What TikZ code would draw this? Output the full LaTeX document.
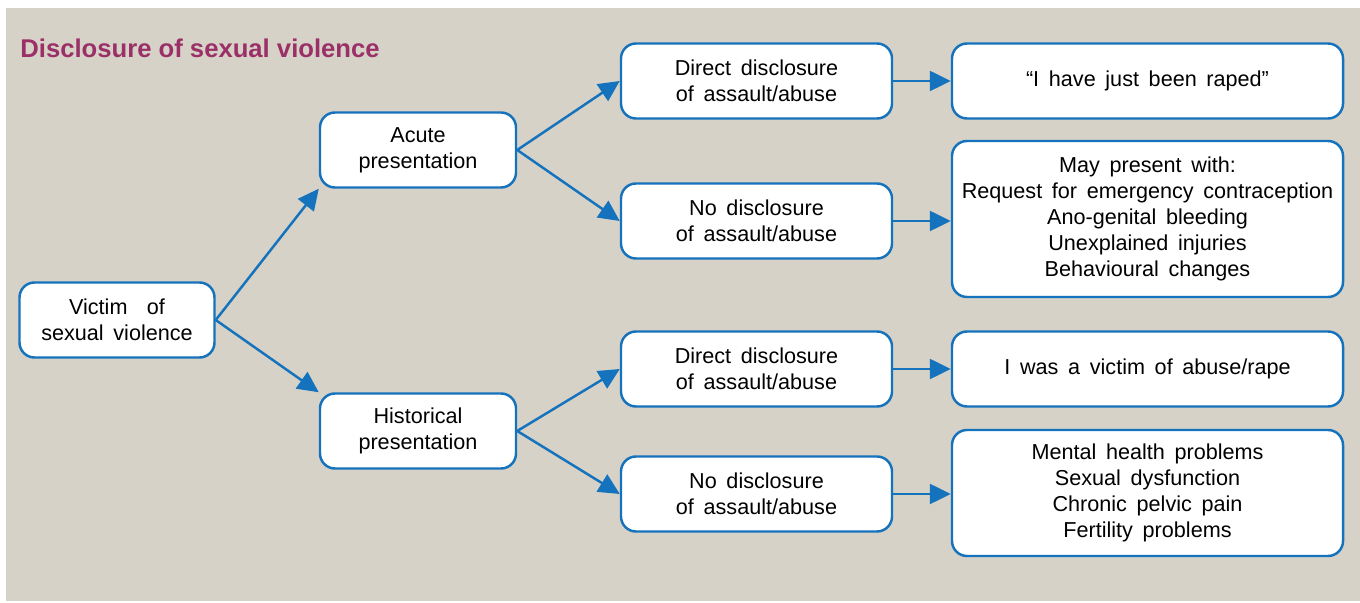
\documentclass[tikz,border=0pt]{standalone}
\usepackage{fontspec}
\setmainfont{Liberation Sans}
\usepackage{tikz}
\usetikzlibrary{arrows.meta}
\usetikzlibrary{calc}
\definecolor{boxcolor}{HTML}{1572BD}
\definecolor{bgcolor}{HTML}{D6D2C7}
\definecolor{titlecolor}{HTML}{9B3068}
\newcommand{\wordgap}{\spaceskip=5.5pt plus 1pt minus 0pt\relax}
\tikzset{
  stepbox/.style={draw=boxcolor, fill=white, line width=1.4pt, rounded corners=0.3cm,
    align=center, minimum height=1.5cm, inner sep=2pt,
    font=\fontsize{12.3}{14.9}\selectfont\wordgap},
  flow/.style={draw=boxcolor, line width=1.4pt, -{Triangle[length=0.42cm,width=0.4cm]}}
}

\begin{document}
\begin{tikzpicture}
\useasboundingbox (0,0) rectangle (27.2,12.04);
  \fill[bgcolor] (0.12,0.02) rectangle (27.2,11.88);
  \node[anchor=base west, inner sep=0pt, text=titlecolor, font=\fontsize{14.6}{17}\selectfont\bfseries] (title) at (0.4,10.88) {Disclosure of sexual violence};

  %% left column
  \node[stepbox, minimum width=3.9cm] (victim) at (2.34,5.64) {Victim \ of\\sexual violence};
  \node[stepbox, minimum width=3.92cm] (acute) at (8.36,9.04) {Acute\\presentation};
  \node[stepbox, minimum width=3.92cm] (hist) at (8.36,3.42) {Historical\\presentation};

  %% middle column
  \node[stepbox, minimum width=5.42cm] (direct1) at (15.13,10.42) {Direct disclosure\\of assault/abuse};
  \node[stepbox, minimum width=5.42cm] (none1) at (15.13,7.62) {No disclosure\\of assault/abuse};
  \node[stepbox, minimum width=5.42cm] (direct2) at (15.13,4.66) {Direct disclosure\\of assault/abuse};
  \node[stepbox, minimum width=5.42cm] (none2) at (15.13,2.16) {No disclosure\\of assault/abuse};

  %% right column
  \node[stepbox, minimum width=7.82cm] (res1) at (22.95,10.42) {``I have just been raped''};
  \node[stepbox, minimum width=7.82cm, minimum height=3.12cm] (res2) at (22.95,7.66)
    {May present with:\\Request for emergency contraception\\Ano-genital bleeding\\Unexplained injuries\\Behavioural changes};
  \node[stepbox, minimum width=7.82cm] (res3) at (22.95,4.66) {I was a victim of abuse/rape};
  \node[stepbox, minimum width=7.82cm, minimum height=2.52cm] (res4) at (22.95,2.18)
    {Mental health problems\\Sexual dysfunction\\Chronic pelvic pain\\Fertility problems};

  \draw[flow] (victim.east) -- (acute.south west);
  \draw[flow] (victim.east) -- (hist.north west);
  \draw[flow] (acute.east) -- (direct1.west);
  \draw[flow] (acute.east) -- (none1.west);
  \draw[flow] (hist.east) -- (direct2.west);
  \draw[flow] (hist.east) -- (none2.west);

  \draw[flow] (direct1.east) -- (res1.west);
  \draw[flow] (none1.east) -- (none1.east -| res2.west);
  \draw[flow] (direct2.east) -- (res3.west);
  \draw[flow] (none2.east) -- (none2.east -| res4.west);
\end{tikzpicture}
\end{document}
